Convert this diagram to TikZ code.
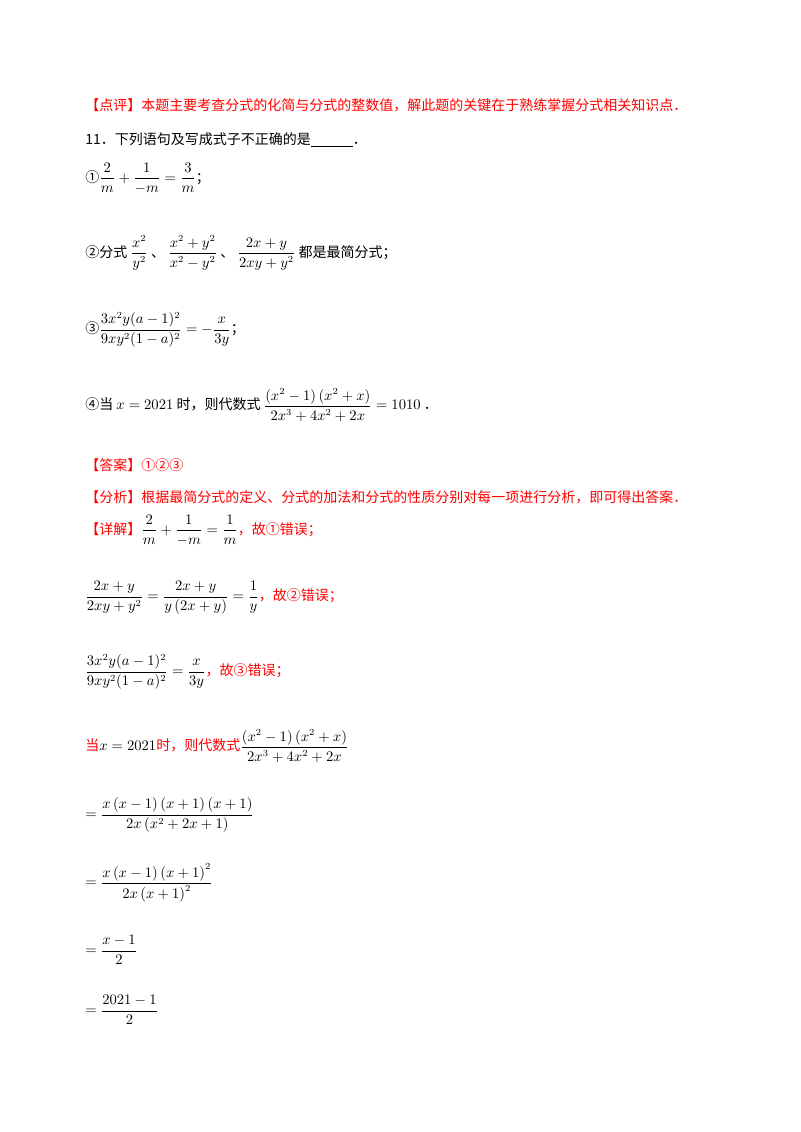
\documentclass[tikz,border=0pt]{standalone}
\usepackage{amsmath}
\usepackage{fontspec}
\setmainfont{Liberation Serif}
\newfontfamily\cjk{Noto Sans CJK SC}
\definecolor{notecolor}{rgb}{1,0,0}
\tikzset{line/.style={anchor=west,inner sep=0pt,font=\cjk\fontsize{10.5pt}{13pt}\selectfont},
         red line/.style={line,text=notecolor}}
\newcommand{\mfrac}[2]{\dfrac{#1}{#2}}
\begin{document}
\begin{tikzpicture}[x=0.75pt,y=-0.75pt]
  \useasboundingbox (0,0) rectangle (800,1132);

  \node[red line] (review) at (85,105) {【点评】本题主要考查分式的化简与分式的整数值，解此题的关键在于熟练掌握分式相关知识点．};
  \node[line] (question) at (85,140) {11．下列语句及写成式子不正确的是\underline{\hspace{3em}}．};
  \node[line] (one) at (85,178) {①$\mfrac{2}{m}+\mfrac{1}{-m}=\mfrac{3}{m}$；};
  \node[line] (two) at (85,253) {②分式 $\mfrac{x^2}{y^2}$ 、 $\mfrac{x^2+y^2}{x^2-y^2}$ 、 $\mfrac{2x+y}{2xy+y^2}$ 都是最简分式；};
  \node[line] (three) at (85,330) {③$\mfrac{3x^2y(a-1)^2}{9xy^2(1-a)^2}=-\mfrac{x}{3y}$；};
  \node[line] (four) at (85,405) {④当 $x=2021$ 时，则代数式 $\mfrac{\left(x^2-1\right)\left(x^2+x\right)}{2x^3+4x^2+2x}=1010$ ．};

  \node[red line] (answer) at (85,465) {【答案】①②③};
  \node[red line] (analysis) at (85,497) {【分析】根据最简分式的定义、分式的加法和分式的性质分别对每一项进行分析，即可得出答案．};
  \node[red line] (detail) at (85,530) {【详解】\textcolor{black}{$\mfrac{2}{m}+\mfrac{1}{-m}=\mfrac{1}{m}$}，故①错误；};
  \node[red line] (stepa) at (85,598) {\textcolor{black}{$\mfrac{2x+y}{2xy+y^2}=\mfrac{2x+y}{y\left(2x+y\right)}=\mfrac{1}{y}$}，故②错误；};
  \node[red line] (stepb) at (85,672) {\textcolor{black}{$\mfrac{3x^2y(a-1)^2}{9xy^2(1-a)^2}=\mfrac{x}{3y}$}，故③错误；};
  \node[red line] (stepc) at (85,746) {当\textcolor{black}{$x=2021$}时，则代数式\textcolor{black}{$\mfrac{\left(x^2-1\right)\left(x^2+x\right)}{2x^3+4x^2+2x}$}};
  \node[line] (stepd) at (85,815) {$=\mfrac{x\left(x-1\right)\left(x+1\right)\left(x+1\right)}{2x\left(x^2+2x+1\right)}$};
  \node[line] (stepe) at (85,883) {$=\mfrac{x\left(x-1\right)\left(x+1\right)^2}{2x\left(x+1\right)^2}$};
  \node[line] (stepf) at (85,950) {$=\mfrac{x-1}{2}$};
  \node[line] (stepg) at (85,1010) {$=\mfrac{2021-1}{2}$};
\end{tikzpicture}
\end{document}
